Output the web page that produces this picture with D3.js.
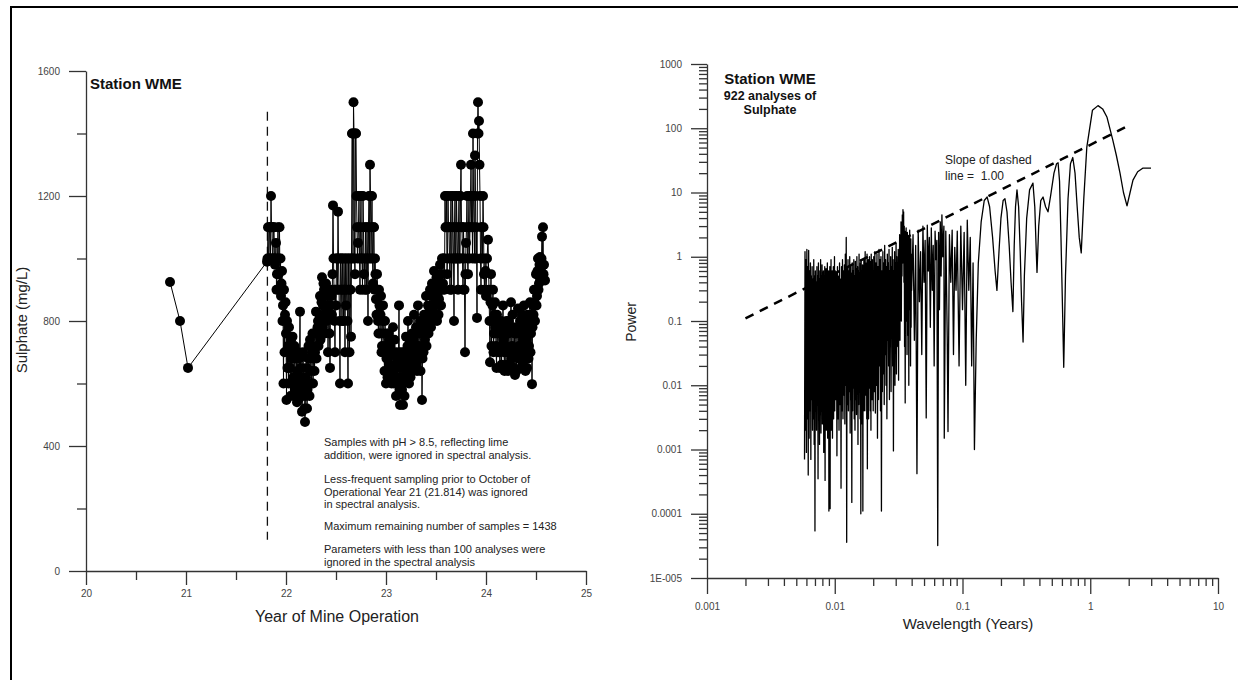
<!DOCTYPE html>
<html>
<head>
<meta charset="utf-8">
<script src="https://cdn.jsdelivr.net/npm/d3@7"></script>
<style>
  body { margin: 0; background: #fff; }
  svg { display: block; font-family: "Liberation Sans", Arial, sans-serif; }
  .tick text { fill: #444; font-size: 10px; }
  .axis path, .axis line { stroke: #333; stroke-width: 1.3; }
</style>
</head>
<body>
<div id="chart"></div>
<script>
// ---- left panel: sulphate time series (year, mg/L) ----
const earlySamples = [[20.84, 925], [20.94, 800], [21.02, 650]];
const sulphateSamples = [
  [21.81, 990], [21.82, 1100], [21.83, 1000], [21.84, 1100], [21.85, 1200], [21.86, 1100], [21.87, 1000], [21.88, 1100],
  [21.89, 980], [21.90, 1050], [21.91, 950], [21.92, 1100], [21.93, 1000], [21.94, 900], [21.945, 1000], [21.95, 880],
  [21.96, 960], [21.97, 850], [21.975, 600], [21.98, 900], [21.99, 820], [22.00, 760], [22.005, 547], [22.01, 800],
  [22.02, 720], [22.03, 780], [22.04, 650], [22.05, 740], [22.06, 600], [22.07, 700], [22.08, 560], [22.09, 680],
  [22.10, 620], [22.11, 540], [22.12, 700], [22.13, 600], [22.14, 830], [22.145, 560], [22.15, 650], [22.16, 510],
  [22.17, 700], [22.18, 580], [22.19, 477], [22.20, 620], [22.21, 520], [22.22, 680], [22.23, 600], [22.24, 740],
  [22.25, 640], [22.26, 700], [22.27, 600], [22.28, 760], [22.29, 700], [22.30, 830], [22.31, 720], [22.32, 800],
  [22.33, 760], [22.34, 880], [22.35, 800], [22.36, 940], [22.37, 850], [22.38, 900], [22.39, 760], [22.40, 920],
  [22.41, 850], [22.42, 700], [22.43, 880], [22.44, 650], [22.45, 900], [22.46, 820], [22.47, 1170], [22.48, 900],
  [22.49, 700], [22.50, 850], [22.51, 1000], [22.52, 1150], [22.53, 900], [22.54, 600], [22.55, 1000], [22.56, 800],
  [22.57, 900], [22.58, 1000], [22.59, 700], [22.60, 850], [22.61, 1000], [22.62, 600], [22.63, 900], [22.64, 1000],
  [22.65, 750], [22.66, 1400], [22.67, 1000], [22.675, 1500], [22.68, 1400], [22.69, 950], [22.70, 1400], [22.71, 1100],
  [22.72, 1050], [22.73, 1200], [22.74, 900], [22.75, 1200], [22.76, 1000], [22.77, 1200], [22.78, 950], [22.79, 900],
  [22.80, 1000], [22.81, 1100], [22.82, 800], [22.83, 1200], [22.84, 1300], [22.85, 1000], [22.86, 1200], [22.87, 920],
  [22.88, 1100], [22.89, 1000], [22.90, 870], [22.91, 950], [22.92, 800], [22.93, 900], [22.94, 760], [22.95, 880],
  [22.96, 720], [22.97, 850], [22.98, 700], [22.99, 800], [23.00, 600], [23.01, 760], [23.02, 680], [23.03, 740],
  [23.04, 620], [23.05, 700], [23.06, 650], [23.07, 780], [23.08, 600], [23.09, 700], [23.10, 560], [23.11, 680],
  [23.12, 620], [23.13, 850], [23.14, 531], [23.15, 650], [23.16, 580], [23.17, 531], [23.18, 700], [23.19, 620],
  [23.20, 750], [23.21, 660], [23.22, 800], [23.23, 600], [23.24, 720], [23.25, 650], [23.26, 760], [23.27, 680],
  [23.28, 820], [23.29, 700], [23.30, 780], [23.31, 640], [23.32, 850], [23.33, 720], [23.34, 800], [23.35, 700],
  [23.36, 547], [23.37, 760], [23.38, 820], [23.39, 740], [23.40, 880], [23.41, 760], [23.42, 850], [23.43, 800],
  [23.44, 900], [23.45, 780], [23.46, 920], [23.47, 840], [23.48, 960], [23.49, 860], [23.50, 900], [23.51, 800],
  [23.52, 950], [23.53, 870], [23.54, 980], [23.55, 850], [23.56, 1000], [23.57, 920], [23.58, 1000], [23.59, 1200],
  [23.60, 1100], [23.61, 950], [23.62, 1200], [23.63, 1100], [23.64, 900], [23.65, 1200], [23.66, 1000], [23.67, 1100],
  [23.68, 800], [23.69, 1200], [23.70, 1000], [23.71, 1100], [23.72, 900], [23.73, 1200], [23.74, 1000], [23.75, 1300],
  [23.76, 1100], [23.77, 900], [23.78, 1000], [23.79, 700], [23.80, 1050], [23.81, 1200], [23.82, 950], [23.83, 1200],
  [23.84, 1100], [23.85, 1300], [23.86, 1200], [23.87, 1400], [23.88, 1100], [23.89, 1330], [23.90, 1000], [23.91, 810],
  [23.915, 1400], [23.92, 1500], [23.93, 1440], [23.94, 1200], [23.95, 900], [23.96, 1100], [23.97, 1200], [23.98, 950],
  [23.99, 1000], [24.00, 880], [24.01, 1000], [24.02, 1060], [24.03, 900], [24.04, 668], [24.05, 950], [24.06, 800],
  [24.07, 900], [24.08, 760], [24.09, 860], [24.10, 720], [24.11, 820], [24.12, 700], [24.13, 780], [24.14, 650],
  [24.15, 800], [24.16, 720], [24.17, 850], [24.18, 700], [24.19, 780], [24.20, 660], [24.21, 760], [24.22, 640],
  [24.23, 800], [24.24, 700], [24.25, 860], [24.26, 720], [24.27, 780], [24.28, 650], [24.29, 627], [24.30, 760],
  [24.31, 700], [24.32, 840], [24.33, 720], [24.34, 800], [24.35, 680], [24.36, 820], [24.37, 740], [24.38, 850],
  [24.39, 700], [24.40, 780], [24.41, 650], [24.42, 800], [24.43, 720], [24.44, 860], [24.45, 760], [24.46, 598],
  [24.47, 850], [24.48, 900], [24.49, 800], [24.50, 950], [24.51, 880], [24.52, 1000], [24.53, 920], [24.54, 1005],
  [24.55, 960], [24.56, 1070], [24.57, 1100], [24.58, 980], [24.59, 930]
];
// samples between the ones above (sampling was roughly twice as dense)
const sulphateSamplesB = [
  [21.815, 1000], [21.825, 1000], [21.835, 1100], [21.845, 1000], [21.855, 1100], [21.865, 1000], [21.875, 1100],
  [21.885, 1000], [21.895, 1000], [21.905, 900], [21.915, 1000], [21.925, 950], [21.935, 1100],
  [21.955, 920], [21.965, 800], [21.985, 700], [21.995, 860], [22.015, 650], [22.025, 600], [22.035, 700],
  [22.045, 560], [22.055, 680], [22.065, 750], [22.075, 620], [22.085, 720], [22.095, 580], [22.105, 700],
  [22.115, 640], [22.125, 550], [22.135, 680], [22.155, 600], [22.165, 560], [22.175, 620], [22.185, 520],
  [22.195, 560], [22.205, 650], [22.215, 580], [22.225, 720], [22.235, 560], [22.245, 680], [22.255, 600],
  [22.265, 760], [22.275, 680], [22.285, 640], [22.295, 760], [22.305, 680], [22.315, 780], [22.325, 720],
  [22.335, 820], [22.345, 740], [22.355, 860], [22.365, 780], [22.375, 920], [22.385, 820], [22.395, 880],
  [22.405, 800], [22.415, 900], [22.425, 820], [22.435, 760], [22.445, 850], [22.455, 880], [22.465, 950],
  [22.475, 1000], [22.485, 800], [22.495, 900], [22.505, 1000], [22.515, 900], [22.525, 1000], [22.535, 800],
  [22.545, 1000], [22.555, 900], [22.565, 1000], [22.575, 800], [22.585, 900], [22.595, 1000], [22.605, 900],
  [22.615, 800], [22.625, 1000], [22.635, 700], [22.645, 900], [22.655, 1000], [22.665, 1400], [22.685, 1000],
  [22.695, 1400], [22.705, 1200], [22.715, 1000], [22.725, 1100], [22.735, 1000], [22.745, 1100], [22.755, 1000],
  [22.765, 900], [22.775, 1100], [22.785, 1000], [22.795, 1100], [22.805, 900], [22.815, 1000], [22.825, 1100],
  [22.835, 1000], [22.845, 1200], [22.855, 1100], [22.865, 1000], [22.875, 1100], [22.885, 900], [22.895, 950],
  [22.905, 820], [22.915, 900], [22.925, 760], [22.935, 850], [22.945, 820], [22.955, 700], [22.965, 800],
  [22.975, 760], [22.985, 640], [22.995, 720], [23.005, 680], [23.015, 620], [23.025, 760], [23.035, 660],
  [23.045, 720], [23.055, 600], [23.065, 700], [23.075, 640], [23.085, 740], [23.095, 620], [23.105, 660],
  [23.115, 600], [23.125, 700], [23.135, 580], [23.145, 620], [23.155, 700], [23.165, 600], [23.175, 660],
  [23.185, 560], [23.195, 680], [23.205, 640], [23.215, 720], [23.225, 680], [23.235, 740], [23.245, 620],
  [23.255, 700], [23.265, 640], [23.275, 740], [23.285, 760], [23.295, 660], [23.305, 720], [23.315, 760],
  [23.325, 680], [23.335, 760], [23.345, 640], [23.355, 760], [23.365, 680], [23.375, 700], [23.385, 780],
  [23.395, 800], [23.405, 720], [23.415, 820], [23.425, 760], [23.435, 840], [23.445, 820], [23.455, 880],
  [23.465, 800], [23.475, 900], [23.485, 820], [23.495, 860], [23.505, 940], [23.515, 880], [23.525, 820],
  [23.535, 920], [23.545, 900], [23.555, 950], [23.565, 900], [23.575, 1000], [23.585, 900], [23.595, 1100],
  [23.605, 1200], [23.615, 1000], [23.625, 1100], [23.635, 1000], [23.645, 1100], [23.655, 900], [23.665, 1200],
  [23.675, 1000], [23.685, 1100], [23.695, 1000], [23.705, 1200], [23.715, 1000], [23.725, 1100], [23.735, 1000],
  [23.745, 1200], [23.755, 1100], [23.765, 1000], [23.775, 1100], [23.785, 900], [23.795, 950], [23.805, 1100],
  [23.815, 1000], [23.825, 1100], [23.835, 1000], [23.845, 1200], [23.855, 1100], [23.865, 1000], [23.875, 1200],
  [23.885, 1000], [23.895, 1200], [23.905, 1100], [23.925, 1400], [23.935, 1300], [23.945, 1000], [23.955, 1100],
  [23.965, 1000], [23.975, 1100], [23.985, 900], [23.995, 960], [24.035, 800], [24.045, 860], [24.055, 720],
  [24.065, 850], [24.075, 700], [24.085, 820], [24.095, 780], [24.105, 650], [24.115, 760], [24.125, 800],
  [24.135, 700], [24.145, 760], [24.155, 660], [24.165, 780], [24.175, 740], [24.185, 640], [24.195, 720],
  [24.205, 800], [24.215, 700], [24.225, 760], [24.235, 660], [24.245, 780], [24.255, 680], [24.265, 820],
  [24.275, 700], [24.285, 760], [24.295, 700], [24.305, 640], [24.315, 780], [24.325, 680], [24.335, 760],
  [24.345, 720], [24.355, 780], [24.365, 660], [24.375, 800], [24.385, 760], [24.395, 640], [24.405, 740],
  [24.415, 820], [24.425, 680], [24.435, 780], [24.445, 700], [24.455, 820], [24.465, 780], [24.475, 820],
  [24.485, 860], [24.495, 900], [24.505, 850], [24.515, 960], [24.525, 900], [24.535, 980], [24.545, 940],
  [24.555, 1000], [24.565, 980], [24.575, 950]
];
const cutoffYear = 21.814;
const cutoffRange = [100, 1470];
const yearTicks = [20, 21, 22, 23, 24, 25];
const yearMinorTicks = [20.5, 21.5, 22.5, 23.5, 24.5];
const sulphateTicks = [0, 400, 800, 1200, 1600];
const sulphateMinorTicks = [200, 600, 1000, 1400];
const notes = [
  "Samples with pH > 8.5, reflecting lime",
  "addition, were ignored in spectral analysis.",
  "Less-frequent sampling prior to October of",
  "Operational Year 21 (21.814) was ignored",
  "in spectral analysis.",
  "Maximum remaining number of samples = 1438",
  "Parameters with less than 100 analyses were",
  "ignored in the spectral analysis"
];

// ---- right panel: power spectrum (wavelength in years, power) ----
const powerSpectrum = [
  [0.00580, 0.0007], [0.00585, 1.2], [0.00590, 0.002], [0.00595, 0.9], [0.00600, 0.0009], [0.00605, 1.3],
  [0.00610, 0.003], [0.00615, 0.7], [0.00620, 0.0004], [0.00625, 1.25], [0.00630, 0.0015], [0.00635, 0.6],
  [0.00640, 0.004], [0.00645, 0.8], [0.00650, 0.0007], [0.00655, 0.5], [0.00660, 0.006], [0.00665, 0.7],
  [0.00670, 0.002], [0.00675, 0.45], [0.00680, 0.003], [0.00685, 0.9], [0.00690, 0.0012], [0.00695, 0.5],
  [0.00700, 0.000054], [0.00705, 0.6], [0.00710, 0.004], [0.00715, 0.4], [0.00720, 0.002], [0.00725, 0.7],
  [0.00730, 0.005], [0.00735, 0.5], [0.00740, 0.00035], [0.00745, 0.8], [0.00750, 0.003], [0.00755, 0.45],
  [0.00760, 0.0012], [0.00765, 0.6], [0.00770, 0.0035], [0.00775, 0.9], [0.00780, 0.0018], [0.00785, 0.5],
  [0.00790, 0.006], [0.00795, 0.75], [0.00800, 0.0025], [0.00805, 0.55], [0.00810, 0.004], [0.00815, 0.6],
  [0.00820, 0.0009], [0.00825, 0.4], [0.00830, 0.003], [0.00835, 0.7], [0.00840, 0.00033], [0.00845, 0.5],
  [0.00850, 0.005], [0.00855, 0.65], [0.00860, 0.002], [0.00865, 0.45], [0.00870, 0.004], [0.00875, 0.8],
  [0.00880, 0.0015], [0.00885, 0.5], [0.00890, 0.0035], [0.00895, 0.6], [0.00900, 0.00011], [0.00905, 0.35],
  [0.00910, 0.003], [0.00915, 0.7], [0.00920, 0.00012], [0.00925, 0.55], [0.00930, 0.005], [0.00935, 0.9],
  [0.00940, 0.002], [0.00945, 0.5], [0.00950, 0.007], [0.00955, 0.6], [0.00960, 0.0015], [0.00965, 0.45],
  [0.00970, 0.004], [0.00975, 0.7], [0.00980, 0.003], [0.00985, 0.5], [0.00990, 0.008], [0.00995, 1.0],
  [0.01000, 0.004],
  [0.0101, 0.6], [0.0102, 0.006], [0.0103, 0.55], [0.0104, 0.0008], [0.0105, 0.7], [0.0106, 0.003],
  [0.0107, 0.5], [0.0108, 0.002], [0.0109, 0.8], [0.0110, 0.005], [0.0111, 0.45], [0.0112, 0.00025],
  [0.0113, 0.7], [0.0114, 0.004], [0.0115, 0.9], [0.0116, 0.003], [0.0117, 0.6], [0.0118, 0.007],
  [0.0119, 0.75], [0.0120, 0.0025], [0.0121, 1.1], [0.0122, 0.01], [0.0123, 2.0], [0.0124, 0.000036],
  [0.0125, 0.7], [0.0126, 0.005], [0.0127, 0.9], [0.0128, 0.004], [0.0129, 0.6], [0.0130, 0.008],
  [0.0131, 1.0], [0.0132, 0.0018], [0.0133, 0.7], [0.0134, 0.006], [0.0135, 0.55], [0.0136, 0.00015],
  [0.0137, 0.8], [0.0138, 0.004], [0.0139, 0.6], [0.0140, 0.009], [0.0141, 0.9], [0.0142, 0.003],
  [0.0143, 0.5], [0.0144, 0.002], [0.0145, 0.85], [0.0146, 0.006], [0.0147, 0.65], [0.0148, 0.0035],
  [0.0149, 1.0], [0.0150, 0.012], [0.0151, 0.7], [0.0152, 0.0012], [0.0153, 0.6], [0.0154, 0.005],
  [0.0155, 1.1], [0.0156, 0.008], [0.0157, 0.55], [0.0158, 0.003], [0.0159, 0.8], [0.0160, 0.0001],
  [0.0161, 0.9], [0.0162, 0.006], [0.0163, 0.6], [0.0164, 0.0025], [0.0165, 0.75], [0.0166, 0.00011],
  [0.0167, 0.5], [0.0168, 0.004], [0.0169, 0.9], [0.0170, 0.01], [0.0171, 0.7], [0.0172, 0.004],
  [0.0173, 1.2], [0.0174, 0.007], [0.0175, 0.6], [0.0176, 0.015], [0.0177, 0.8], [0.0178, 0.003],
  [0.0179, 1.1], [0.0180, 0.0005], [0.0181, 0.65], [0.0182, 0.005], [0.0183, 0.9], [0.0184, 0.003],
  [0.0185, 0.7], [0.0186, 0.009], [0.0187, 1.0], [0.0188, 0.012], [0.0189, 0.6], [0.0190, 0.004],
  [0.0191, 0.85], [0.0192, 0.002], [0.0193, 1.1], [0.0194, 0.007], [0.0195, 0.7], [0.0196, 0.006],
  [0.0197, 0.9], [0.0198, 0.01], [0.0199, 0.6], [0.0200, 0.004],
  [0.0202, 1.0], [0.0204, 0.008], [0.0206, 1.2], [0.0208, 0.0037], [0.0210, 0.8], [0.0212, 0.01],
  [0.0214, 1.1], [0.0216, 0.0015], [0.0218, 0.7], [0.0220, 0.006], [0.0222, 1.3], [0.0224, 0.02],
  [0.0226, 0.9], [0.0228, 0.004], [0.0230, 1.0], [0.0232, 0.00011], [0.0234, 0.6], [0.0236, 0.008],
  [0.0238, 1.2], [0.0240, 0.015], [0.0242, 0.8], [0.0244, 0.005], [0.0246, 1.5], [0.0248, 0.03],
  [0.0250, 0.9], [0.0252, 0.01], [0.0254, 0.7], [0.0256, 0.003], [0.0258, 1.1], [0.0260, 0.05],
  [0.0262, 0.8], [0.0264, 0.02], [0.0266, 1.3], [0.0268, 0.006], [0.0270, 0.6], [0.0272, 0.04],
  [0.0274, 1.0], [0.0276, 0.008], [0.0278, 0.7], [0.0280, 0.1], [0.0282, 1.4], [0.0284, 0.02],
  [0.0286, 0.9], [0.0288, 0.00095], [0.0290, 0.6], [0.0292, 0.03], [0.0294, 1.2], [0.0296, 0.01],
  [0.0298, 0.8], [0.0300, 0.06], [0.0302, 1.6], [0.0304, 0.015], [0.0306, 1.0], [0.0308, 0.04],
  [0.0310, 0.7], [0.0312, 0.2], [0.0314, 1.3], [0.0316, 0.012], [0.0318, 0.9], [0.0320, 0.08],
  [0.0322, 2.2], [0.0324, 0.05], [0.0326, 1.5], [0.0328, 0.3], [0.0330, 3.5], [0.0332, 0.1],
  [0.0334, 2.0], [0.0336, 0.5], [0.0338, 4.5], [0.0340, 0.8], [0.0342, 5.4], [0.0344, 1.5],
  [0.0346, 5.0], [0.0348, 0.4], [0.0350, 3.0], [0.0352, 0.04], [0.0354, 2.5], [0.0356, 0.0053],
  [0.0358, 1.8], [0.0360, 0.1], [0.0362, 2.8], [0.0364, 0.3], [0.0366, 1.6], [0.0368, 0.03],
  [0.0370, 2.4], [0.0372, 0.2], [0.0374, 1.4], [0.0376, 0.06], [0.0378, 2.0], [0.0380, 0.01],
  [0.0382, 1.2], [0.0384, 0.15], [0.0386, 2.6], [0.0388, 0.4], [0.0390, 1.5], [0.0392, 0.02],
  [0.0394, 1.9], [0.0396, 0.08], [0.0398, 1.1], [0.0400, 0.3],
  [0.041, 2.2], [0.042, 0.05], [0.043, 1.5], [0.044, 0.00042], [0.045, 2.6], [0.046, 0.2],
  [0.047, 1.2], [0.048, 0.03], [0.049, 3.0], [0.050, 0.4], [0.051, 1.8], [0.052, 0.0031],
  [0.053, 3.1], [0.054, 0.6], [0.055, 2.0], [0.056, 0.08], [0.057, 2.8], [0.058, 0.3],
  [0.059, 1.5], [0.060, 0.02], [0.061, 2.5], [0.062, 0.9], [0.063, 1.8], [0.064, 0.000032],
  [0.065, 2.4], [0.066, 0.15], [0.067, 3.5], [0.068, 0.5], [0.069, 4.5], [0.070, 1.0],
  [0.0715, 3.0], [0.072, 0.0015], [0.074, 2.5], [0.076, 0.05], [0.077, 0.0019], [0.079, 2.2],
  [0.081, 0.4], [0.083, 2.6], [0.085, 0.03], [0.087, 1.4], [0.089, 0.3], [0.091, 2.5],
  [0.094, 0.02], [0.097, 3.0], [0.100, 0.15], [0.103, 2.4], [0.106, 0.01], [0.109, 3.7],
  [0.112, 0.3], [0.115, 2.0], [0.118, 0.02], [0.121, 0.8], [0.124, 0.001],
  [0.128, 0.05], [0.133, 0.8], [0.140, 3.5], [0.148, 7.5], [0.156, 8.5], [0.163, 6], [0.172, 2],
  [0.180, 0.6], [0.186, 0.3], [0.193, 1.2], [0.200, 4], [0.208, 7.5], [0.215, 8], [0.223, 5],
  [0.232, 1.5], [0.240, 0.4], [0.248, 0.14], [0.254, 1.5], [0.260, 6], [0.267, 11], [0.275, 6],
  [0.283, 1.2], [0.290, 0.2], [0.298, 0.047], [0.305, 0.5], [0.318, 4], [0.335, 11], [0.356, 14],
  [0.368, 6], [0.378, 1.2], [0.383, 0.57], [0.395, 3], [0.410, 7.5], [0.427, 8.5], [0.447, 6],
  [0.467, 5], [0.49, 9], [0.52, 20], [0.545, 28], [0.56, 29], [0.575, 15], [0.59, 2], [0.605, 0.2],
  [0.62, 0.019], [0.64, 0.5], [0.67, 8], [0.70, 28], [0.73, 35], [0.76, 20], [0.79, 6], [0.82, 2],
  [0.85, 1.15], [0.89, 8], [0.94, 51], [1.04, 190], [1.15, 225], [1.25, 200], [1.35, 150], [1.5, 66],
  [1.6, 38], [1.71, 20], [1.82, 10], [1.94, 6.2], [2.05, 10], [2.16, 15.6], [2.35, 21], [2.59, 24],
  [2.99, 24]
];
const slopeWavelength = [0.002, 1.87];
const slopePower = [0.11, 103];
const waveTicks = [0.001, 0.01, 0.1, 1, 10];
const waveTickLabels = ["0.001", "0.01", "0.1", "1", "10"];
const powerTicks = [1e-5, 1e-4, 1e-3, 1e-2, 0.1, 1, 10, 100, 1000];
const powerTickLabels = ["1E-005", "0.0001", "0.001", "0.01", "0.1", "1", "10", "100", "1000"];

const width = 1238, height = 680;
const svg = d3.select("#chart").append("svg").attr("width", width).attr("height", height);

// page frame (top + left edge)
svg.append("path").attr("d", "M11,680V7H1238").attr("fill", "none").attr("stroke", "#000").attr("stroke-width", 2);

// ===== left panel =====
const xYear = d3.scaleLinear().domain([20, 25]).range([86, 586]);
const ySulph = d3.scaleLinear().domain([0, 1600]).range([571, 71]);

function styleAxis(g) {
  g.attr("class", "axis");
  g.selectAll(".tick text").attr("fill", "#444");
}

svg.append("g").attr("transform", "translate(0,571)")
  .call(d3.axisBottom(xYear).tickValues(yearMinorTicks).tickSize(9).tickSizeOuter(0).tickFormat(""))
  .call(styleAxis).select(".domain").remove();
svg.append("g").attr("transform", "translate(0,571)")
  .call(d3.axisBottom(xYear).tickValues(yearTicks).tickSize(14).tickSizeOuter(0).tickPadding(5).tickFormat(d3.format("d")))
  .call(styleAxis);
svg.append("g").attr("transform", "translate(86,0)")
  .call(d3.axisLeft(ySulph).tickValues(sulphateMinorTicks).tickSize(9).tickSizeOuter(0).tickFormat(""))
  .call(styleAxis).select(".domain").remove();
svg.append("g").attr("transform", "translate(86,0)")
  .call(d3.axisLeft(ySulph).tickValues(sulphateTicks).tickSize(17).tickSizeOuter(0).tickPadding(9).tickFormat(d3.format("d")))
  .call(styleAxis);

// cutoff dashed line
svg.append("line")
  .attr("x1", xYear(cutoffYear)).attr("x2", xYear(cutoffYear))
  .attr("y1", ySulph(cutoffRange[1])).attr("y2", ySulph(cutoffRange[0]))
  .attr("stroke", "#111").attr("stroke-width", 1.3).attr("stroke-dasharray", "9,6");

const allSamples = earlySamples.concat(sulphateSamples, sulphateSamplesB).sort((a, b) => a[0] - b[0]);
const sampleLine = d3.line().x(d => xYear(d[0])).y(d => ySulph(d[1]));
svg.append("path").datum(allSamples).attr("d", sampleLine)
  .attr("fill", "none").attr("stroke", "#000").attr("stroke-width", 1);
svg.append("g").selectAll("circle").data(allSamples).join("circle")
  .attr("cx", d => xYear(d[0])).attr("cy", d => ySulph(d[1])).attr("r", 5).attr("fill", "#000");

svg.append("text").attr("x", 90).attr("y", 89).attr("font-size", 15).attr("font-weight", "bold")
  .attr("fill", "#111").text("Station WME");

const noteY = [446, 459, 483, 496, 508, 530, 553, 566];
svg.append("g").selectAll("text").data(notes).join("text")
  .attr("x", 324).attr("y", (d, i) => noteY[i]).attr("font-size", 11).attr("fill", "#222").text(d => d);

svg.append("text").attr("x", 337).attr("y", 622).attr("text-anchor", "middle").attr("font-size", 16)
  .attr("fill", "#222").text("Year of Mine Operation");
svg.append("text").attr("transform", "translate(27,320) rotate(-90)").attr("text-anchor", "middle")
  .attr("font-size", 15).attr("fill", "#222").text("Sulphate (mg/L)");

// ===== right panel =====
const xWave = d3.scaleLog().domain([0.001, 10]).range([707, 1218]);
const yPower = d3.scaleLog().domain([1e-5, 1000]).range([578, 64]);

const waveMinor = [], powerMinor = [];
[0.001, 0.01, 0.1, 1].forEach(dec => { for (let k = 2; k <= 9; k++) waveMinor.push(dec * k); });
[1e-5, 1e-4, 1e-3, 1e-2, 0.1, 1, 10, 100].forEach(dec => { for (let k = 2; k <= 9; k++) powerMinor.push(dec * k); });

svg.append("g").attr("transform", "translate(0,578)")
  .call(d3.axisBottom(xWave).tickValues(waveMinor).tickSize(8).tickSizeOuter(0).tickFormat(""))
  .call(styleAxis).select(".domain").remove();
svg.append("g").attr("transform", "translate(0,578)")
  .call(d3.axisBottom(xWave).tickValues(waveTicks).tickSize(16).tickSizeOuter(0).tickPadding(9)
    .tickFormat((d, i) => waveTickLabels[i]))
  .call(styleAxis);
svg.append("g").attr("transform", "translate(707,0)")
  .call(d3.axisLeft(yPower).tickValues(powerMinor).tickSize(8).tickSizeOuter(0).tickFormat(""))
  .call(styleAxis).select(".domain").remove();
svg.append("g").attr("transform", "translate(707,0)")
  .call(d3.axisLeft(yPower).tickValues(powerTicks).tickSize(16).tickSizeOuter(0).tickPadding(9)
    .tickFormat((d, i) => powerTickLabels[i]))
  .call(styleAxis);

const specLine = d3.line().x(d => xWave(d[0])).y(d => yPower(d[1]));
svg.append("path").datum(powerSpectrum).attr("d", specLine)
  .attr("fill", "none").attr("stroke", "#000").attr("stroke-width", 1.3).attr("stroke-linejoin", "round");

svg.append("line")
  .attr("x1", xWave(slopeWavelength[0])).attr("y1", yPower(slopePower[0]))
  .attr("x2", xWave(slopeWavelength[1])).attr("y2", yPower(slopePower[1]))
  .attr("stroke", "#000").attr("stroke-width", 2.5).attr("stroke-dasharray", "9,7");

svg.append("text").attr("x", 770).attr("y", 84).attr("text-anchor", "middle").attr("font-size", 15)
  .attr("font-weight", "bold").attr("fill", "#111").text("Station WME");
svg.append("text").attr("x", 770).attr("y", 100).attr("text-anchor", "middle").attr("font-size", 12.5)
  .attr("font-weight", "bold").attr("fill", "#111").text("922 analyses of");
svg.append("text").attr("x", 770).attr("y", 114).attr("text-anchor", "middle").attr("font-size", 12.5)
  .attr("font-weight", "bold").attr("fill", "#111").text("Sulphate");

svg.append("text").attr("x", 945).attr("y", 164).attr("font-size", 12).attr("fill", "#222").text("Slope of dashed");
svg.append("text").attr("x", 945).attr("y", 180).attr("font-size", 12).attr("fill", "#222")
  .style("white-space", "pre").text("line =  1.00");

svg.append("text").attr("x", 968).attr("y", 629).attr("text-anchor", "middle").attr("font-size", 15)
  .attr("fill", "#222").text("Wavelength (Years)");
svg.append("text").attr("transform", "translate(636,322) rotate(-90)").attr("text-anchor", "middle")
  .attr("font-size", 14).attr("fill", "#222").text("Power");
</script>
</body>
</html>
